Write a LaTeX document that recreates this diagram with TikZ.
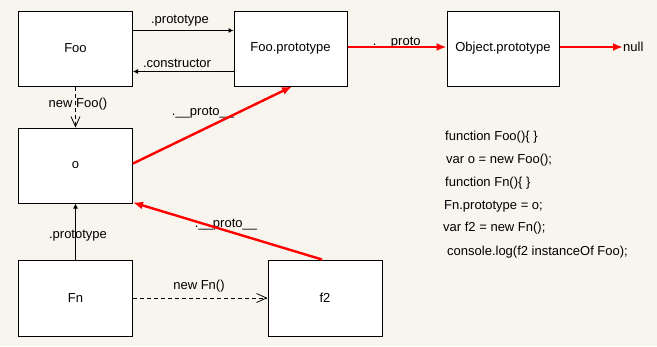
\documentclass[tikz,border=0pt]{standalone}
\usepackage{fontspec}
\setmainfont{Liberation Sans}
\usetikzlibrary{arrows.meta}
\definecolor{bg}{HTML}{F8F5EF}
\definecolor{redline}{HTML}{FF0000}
\tikzset{
  box/.style={draw=black, fill=white, line width=1pt, minimum width=114pt, minimum height=75pt, inner sep=0pt, font=\fontsize{13}{15}\selectfont},
  lbl/.style={inner sep=0pt, font=\fontsize{13}{15}\selectfont},
  code/.style={inner sep=0pt, anchor=west, font=\fontsize{13}{15}\selectfont},
  blackarrow/.style={draw=black, line width=0.8pt, -{Latex[length=5pt,width=5pt]}},
  redarrow/.style={draw=redline, line width=2.4pt, -{Latex[length=10pt,width=8pt]}},
  newarrow/.style={draw=black, line width=0.8pt, dash pattern=on 4pt off 3pt, -{Straight Barb[length=10pt,width=9pt]}}
}
\begin{document}
\begin{tikzpicture}[x=1pt,y=-1pt]
\useasboundingbox[fill=bg] (0,0) rectangle (657,346);
% boxes
\node[box] (foo) at (75.5,48.5) {Foo};
\node[box, minimum width=113pt] (fp) at (290.5,48.5) {Foo.prototype};
\node[box, minimum width=112pt] (op) at (503,48.5) {Object.prototype};
\node[box] (o) at (75.5,165.5) {o};
\node[box, minimum height=76pt] (fn) at (75.5,298) {Fn};
\node[box, minimum height=76pt] (f2) at (325,298) {f2};
\node[lbl, anchor=west] (null) at (623,47) {null};
% black arrows
\draw[blackarrow] ([yshift=18pt]foo.east) -- ([yshift=18pt]fp.west);
\node[lbl] (lproto1) at (180,21) {.prototype};
\draw[blackarrow] ([yshift=-23pt]fp.west) -- ([yshift=-23pt]foo.east);
\node[lbl] (lcons) at (177,63) {.constructor};
\draw[blackarrow] (fn.north) -- (o.south);
\node[lbl] (lproto2) at (78,236) {.prototype};
% dashed new arrows
\node[lbl] (lnewfoo) at (78,104) {new Foo()};
\draw[newarrow] (foo.south) -- (o.north);
\draw[newarrow] (fn.east) -- (f2.west);
\node[lbl] (lnewfn) at (199,286) {new Fn()};
% red proto arrows
\node[lbl] (lp1) at (404,43) {.\_\_proto\_\_};
\draw[redarrow] ([yshift=1.5pt]fp.east) -- ([yshift=1.5pt]op.west);
\draw[redarrow] ([yshift=1.5pt]op.east) -- (null.west);
\node[lbl] (lp2) at (203,113) {.\_\_proto\_\_};
\draw[redarrow] ([yshift=2pt]o.east) -- ([xshift=1.5pt]fp.south);
\node[lbl] (lp3) at (226,225) {.\_\_proto\_\_};
\draw[redarrow] ([xshift=-3pt]f2.north) -- ([yshift=1pt]o.south east);
% code
\node[code] (c1) at (445,137) {function Foo()\{ \}};
\node[code] (c2) at (446,160) {var o = new Foo();};
\node[code] (c3) at (445,183) {function Fn()\{ \}};
\node[code] (c4) at (444,206) {Fn.prototype = o;};
\node[code] (c5) at (443,228) {var f2 = new Fn();};
\node[code] (c6) at (447,252) {console.log(f2 instanceOf Foo);};
\end{tikzpicture}
\end{document}
